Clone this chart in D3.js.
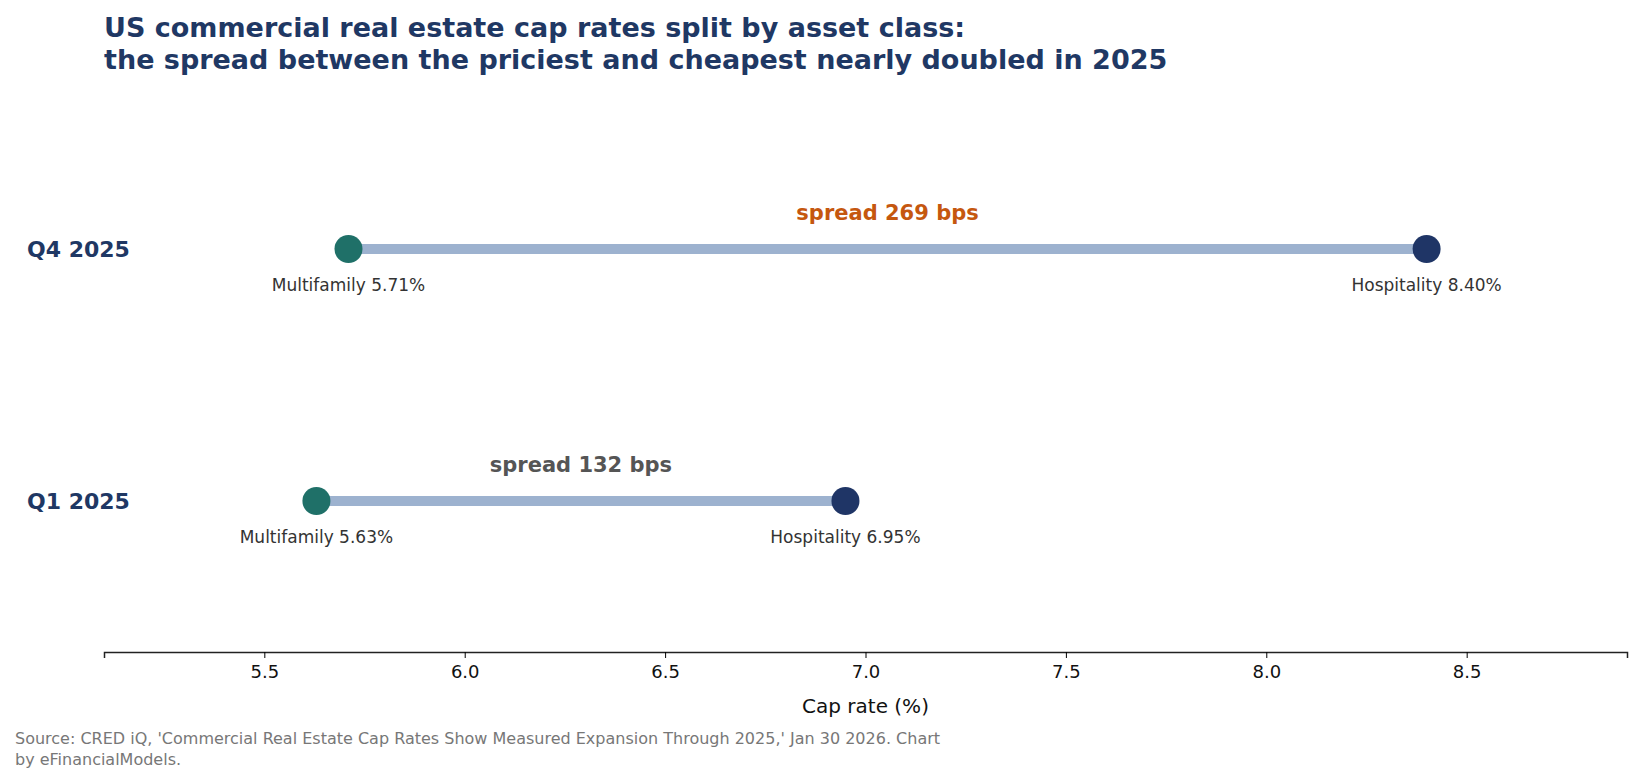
<!DOCTYPE html>
<html><head><meta charset="utf-8">
<script src="https://cdn.jsdelivr.net/npm/d3@7"></script>
<style>body{margin:0;background:#fff}text{font-family:"DejaVu Sans",sans-serif}</style>
</head><body><svg id="c" width="1641" height="782"></svg>
<script>
var periods = ["Q4 2025", "Q1 2025"];
var multifamily = [5.71, 5.63];
var hospitality = [8.40, 6.95];
var spreadLabels = ["spread 269 bps", "spread 132 bps"];
var spreadColors = ["#c5570f", "#555555"];
var ticks = [5.5, 6.0, 6.5, 7.0, 7.5, 8.0, 8.5];

var svg = d3.select("#c");
var x = d3.scaleLinear().domain([5.1, 8.9]).range([104, 1627]);
var y = d3.scalePoint().domain(periods).range([249, 501]);

svg.append("text").attr("x", 104).attr("y", 37).attr("font-size", 27).attr("font-weight", "bold")
  .attr("fill", "#1f3864").text("US commercial real estate cap rates split by asset class:");
svg.append("text").attr("x", 104).attr("y", 69).attr("font-size", 27).attr("font-weight", "bold")
  .attr("fill", "#1f3864").text("the spread between the priciest and cheapest nearly doubled in 2025");

var ax = svg.append("g").attr("transform", "translate(0,652)")
  .call(d3.axisBottom(x).tickValues(ticks).tickFormat(d3.format(".1f")).tickSize(6).tickPadding(7));
ax.select(".domain").attr("stroke", "#222").attr("stroke-width", 1.5);
ax.selectAll("text").attr("font-size", 18).attr("fill", "#111").style("font-family", "DejaVu Sans");
svg.append("text").attr("x", x(7)).attr("y", 713).attr("text-anchor", "middle").attr("font-size", 20)
  .attr("fill", "#111").text("Cap rate (%)");

periods.forEach(function (p, i) {
  var yy = y(p);
  svg.append("text").attr("x", 27).attr("y", yy + 8).attr("font-size", 22).attr("font-weight", "bold")
    .attr("fill", "#1f3864").text(p);
  svg.append("line").attr("x1", x(multifamily[i])).attr("x2", x(hospitality[i])).attr("y1", yy).attr("y2", yy)
    .attr("stroke", "#9db2cf").attr("stroke-width", 10);
  svg.append("circle").attr("cx", x(multifamily[i])).attr("cy", yy).attr("r", 14).attr("fill", "#1f7068");
  svg.append("circle").attr("cx", x(hospitality[i])).attr("cy", yy).attr("r", 14).attr("fill", "#1f3566");
  svg.append("text").attr("x", x(multifamily[i])).attr("y", yy + 42).attr("text-anchor", "middle")
    .attr("font-size", 17).attr("fill", "#333").text("Multifamily " + multifamily[i].toFixed(2) + "%");
  svg.append("text").attr("x", x(hospitality[i])).attr("y", yy + 42).attr("text-anchor", "middle")
    .attr("font-size", 17).attr("fill", "#333").text("Hospitality " + hospitality[i].toFixed(2) + "%");
  svg.append("text").attr("x", x((multifamily[i] + hospitality[i]) / 2)).attr("y", yy - 29)
    .attr("text-anchor", "middle").attr("font-size", 21).attr("font-weight", "bold")
    .attr("fill", spreadColors[i]).text(spreadLabels[i]);
});

svg.append("text").attr("x", 15).attr("y", 744).attr("font-size", 16).attr("fill", "#777")
  .text("Source: CRED iQ, 'Commercial Real Estate Cap Rates Show Measured Expansion Through 2025,' Jan 30 2026. Chart");
svg.append("text").attr("x", 15).attr("y", 765).attr("font-size", 16).attr("fill", "#777").text("by eFinancialModels.");
</script></body></html>
